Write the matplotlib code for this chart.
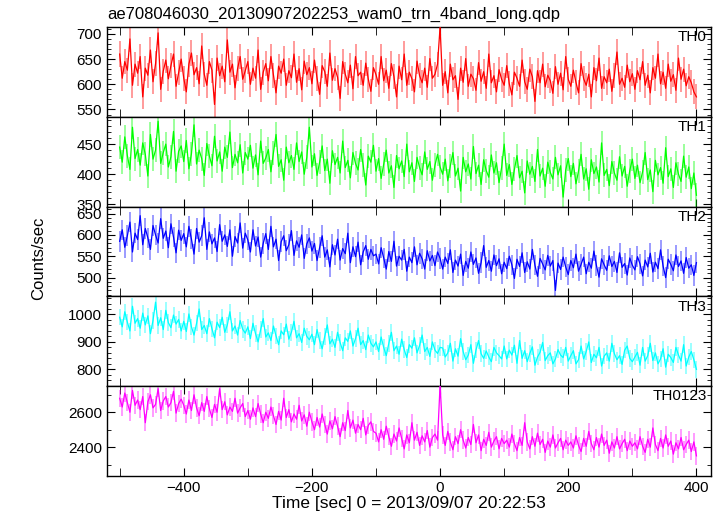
import numpy as np
import matplotlib
matplotlib.use("Agg")
import matplotlib.pyplot as plt
from matplotlib.ticker import MultipleLocator

plt.rcParams['font.family'] = ['Liberation Sans', 'DejaVu Sans']
plt.rcParams['font.size'] = 11

title = "ae708046030_20130907202253_wam0_trn_4band_long.qdp"
xlabel = "Time [sec] 0 = 2013/09/07 20:22:53"
ylabel = "Counts/sec"

# light curves, counts/sec, from -500 s to +400 s
th0 = [660, 612, 645, 628, 690, 598, 640, 622, 655, 575, 632, 618, 668, 605, 641, 702, 590, 626, 648, 611, 637, 660, 596, 623, 650,
       612, 585, 640, 662, 619, 633, 601, 676, 620, 598, 645, 628, 560, 652, 617, 636, 605, 688, 624, 640, 593, 631, 655, 610, 627,
       645, 600, 632, 612, 668, 590, 624, 641, 607, 655, 618, 583, 636, 622, 650, 598, 627, 613, 660, 604, 631, 589, 646, 619, 633,
       601, 648, 612, 580, 637, 625, 596, 662, 608, 631, 614, 572, 645, 620, 603, 638, 591, 655, 617, 624, 598, 642, 610, 586, 633,
       619, 600, 655, 607, 628, 592, 641, 615, 575, 636, 609, 660, 598, 624, 611, 585, 646, 617, 603, 632, 594, 651, 612, 620, 640,
       714,
       598, 625, 583, 640, 609, 617, 570, 632, 604, 651, 596, 620, 611, 588, 643, 606, 625, 592, 660, 603, 617, 585, 629, 610, 598,
       637, 601, 579, 624, 612, 596, 648, 605, 590, 630, 615, 566, 627, 603, 640, 595, 618, 607, 582, 635, 600, 622, 589, 655, 610,
       596, 628, 604, 583, 641, 611, 598, 620, 575, 633, 607, 652, 592, 615, 603, 630, 586, 618, 664, 600, 612, 594, 638, 605, 621,
       590, 627, 609, 645, 598, 618, 583, 633, 612, 660, 601, 624, 592, 640, 606, 619, 588, 652, 610, 630, 597, 615, 603, 585, 575]

th1 = [445, 420, 462, 431, 408, 478, 426, 441, 415, 452, 433, 397, 466, 425, 440, 488, 418, 436, 450, 412, 429, 471, 405, 438, 447,
       421, 456, 409, 434, 482, 417, 440, 426, 398, 451, 430, 414, 463, 422, 437, 405, 445, 428, 470, 411, 433, 419, 449, 402, 436,
       425, 448, 410, 432, 399, 455, 418, 427, 441, 404, 436, 466, 413, 424, 390, 445, 419, 431, 408, 452, 421, 437, 400, 428, 478,
       412, 434, 398, 420, 447, 406, 425, 385, 439, 416, 428, 402, 455, 411, 423, 394, 436, 418, 407, 441, 415, 382, 430, 420, 448,
       405, 426, 393, 417, 440, 402, 414, 378, 431, 409, 422, 396, 450, 404, 419, 388, 428, 411, 399, 437, 408, 421, 390, 415, 433,
       412,
       400, 425, 389, 414, 436, 397, 410, 372, 428, 404, 417, 392, 446, 401, 415, 383, 424, 406, 395, 432, 402, 419, 386, 411, 450,
       398, 416, 383, 408, 431, 394, 405, 369, 422, 400, 413, 388, 441, 397, 410, 380, 420, 403, 392, 428, 399, 414, 362, 407, 426,
       396, 418, 384, 405, 433, 392, 409, 375, 424, 401, 412, 387, 452, 398, 408, 381, 421, 402, 390, 429, 397, 413, 380, 406, 425,
       393, 415, 386, 404, 436, 391, 407, 371, 423, 399, 411, 385, 444, 396, 409, 378, 419, 400, 388, 430, 395, 412, 376, 402, 365]

th2 = [585, 612, 571, 598, 630, 560, 604, 589, 645, 577, 615, 593, 566, 622, 600, 581, 638, 592, 609, 570, 626, 595, 558, 611, 587,
       603, 572, 620, 590, 555, 615, 583, 598, 640, 566, 607, 579, 593, 561, 624, 585, 600, 573, 612, 550, 596, 581, 628, 569, 604,
       588, 560, 612, 574, 595, 548, 580, 603, 566, 620, 572, 590, 540, 584, 598, 563, 577, 610, 552, 586, 571, 600, 545, 579, 593,
       562, 580, 540, 570, 598, 548, 565, 525, 577, 553, 590, 541, 568, 556, 604, 535, 572, 549, 583, 530, 560, 575, 543, 566, 551,
       555, 532, 570, 546, 520, 561, 538, 585, 527, 550, 541, 566, 515, 548, 535, 572, 530, 557, 544, 520, 563, 539, 552, 528, 560,
       545,
       520, 548, 533, 565, 512, 541, 527, 555, 505, 538, 522, 560, 531, 546, 510, 535, 575, 524, 540, 515, 553, 528, 544, 509, 536,
       521, 550, 530, 498, 543, 526, 558, 512, 537, 520, 566, 529, 503, 545, 532, 518, 552, 527, 540, 470, 534, 519, 548, 525, 507,
       540, 523, 555, 515, 531, 548, 509, 536, 522, 562, 528, 501, 544, 530, 517, 551, 526, 538, 512, 558, 524, 533, 506, 546, 529,
       518, 549, 532, 504, 541, 525, 557, 513, 536, 521, 565, 527, 500, 543, 531, 516, 553, 526, 539, 510, 547, 522, 530, 505, 535]

th3 = [990, 955, 1010, 972, 940, 1030, 968, 985, 950, 1005, 962, 995, 930, 978, 1045, 960, 988, 945, 1015, 970, 952, 998, 965, 982, 940,
       975, 938, 1002, 955, 925, 968, 1020, 945, 960, 930, 985, 948, 915, 972, 952, 990, 935, 962, 1010, 940, 958, 925, 978, 946, 932,
       955, 912, 968, 930, 900, 945, 985, 918, 933, 905, 958, 922, 890, 940, 926, 965, 910, 935, 975, 915, 930, 898, 950, 920, 908,
       928, 890, 945, 905, 875, 920, 962, 893, 910, 880, 935, 898, 868, 915, 902, 940, 885, 912, 950, 890, 905, 872, 925, 895, 882,
       900, 865, 918, 880, 850, 895, 935, 868, 885, 855, 910, 872, 843, 890, 877, 915, 860, 887, 925, 865, 880, 847, 900, 870, 858,
       880,
       878, 845, 860, 895, 830, 875, 848, 912, 865, 835, 852, 890, 822, 870, 905, 857, 840, 867, 845, 828, 880, 860, 850, 838, 885,
       838, 870, 852, 888, 822, 905, 840, 868, 828, 858, 882, 815, 845, 862, 898, 832, 850, 860, 820, 838, 872, 852, 843, 880, 830,
       850, 868, 820, 835, 885, 838, 865, 900, 825, 855, 842, 880, 812, 848, 860, 830, 895, 857, 835, 850, 818, 870, 885, 840, 828,
       845, 862, 815, 880, 830, 850, 895, 832, 860, 820, 838, 875, 808, 855, 843, 825, 880, 852, 830, 890, 812, 845, 865, 835, 800]

th0123 = [2680, 2630, 2710, 2655, 2600, 2725, 2640, 2670, 2615, 2690, 2540, 2660, 2700, 2625, 2645, 2735, 2610, 2665, 2690, 2630, 2655, 2720, 2595, 2650, 2675,
          2640, 2590, 2670, 2610, 2700, 2625, 2580, 2655, 2605, 2690, 2620, 2570, 2645, 2600, 2735, 2615, 2660, 2585, 2630, 2605, 2680, 2595, 2625, 2650, 2575,
          2610, 2560, 2625, 2575, 2650, 2590, 2540, 2600, 2565, 2630, 2580, 2530, 2605, 2555, 2680, 2570, 2615, 2545, 2590, 2560, 2640, 2550, 2585, 2520, 2600,
          2545, 2500, 2570, 2515, 2590, 2530, 2475, 2550, 2505, 2575, 2520, 2460, 2540, 2495, 2610, 2510, 2555, 2480, 2530, 2500, 2565, 2470, 2525, 2545, 2490,
          2480, 2430, 2500, 2445, 2520, 2460, 2405, 2475, 2435, 2510, 2450, 2390, 2470, 2425, 2540, 2440, 2485, 2410, 2465, 2430, 2495, 2400, 2455, 2475, 2440,
          2760,
          2470, 2410, 2490, 2430, 2385, 2460, 2420, 2500, 2440, 2395, 2455, 2415, 2530, 2425, 2470, 2380, 2445, 2410, 2485, 2400, 2435, 2460, 2390, 2450, 2420,
          2440, 2400, 2475, 2420, 2380, 2455, 2410, 2540, 2430, 2390, 2460, 2405, 2480, 2415, 2445, 2370, 2435, 2400, 2470, 2395, 2425, 2450, 2385, 2440, 2410,
          2430, 2395, 2465, 2410, 2375, 2450, 2405, 2490, 2420, 2385, 2455, 2400, 2475, 2410, 2440, 2365, 2430, 2395, 2460, 2390, 2420, 2445, 2380, 2435, 2405,
          2425, 2390, 2460, 2405, 2370, 2445, 2400, 2510, 2415, 2380, 2450, 2395, 2470, 2405, 2435, 2360, 2425, 2390, 2455, 2385, 2415, 2440, 2375, 2430, 2350]

names = ["TH0", "TH1", "TH2", "TH3", "TH0123"]
series = [th0, th1, th2, th3, th0123]
errs = [25, 20, 24, 30, 50]
colors = ["#ff0000", "#00ff00", "#0000ff", "#00ffff", "#ff00ff"]
ylims = [(535, 713), (346, 495), (456, 666), (739, 1066), (2236, 2750)]
ymajor = [50, 50, 50, 100, 200]
yminor = [10, 10, 10, 20, 100]

fig, axes = plt.subplots(5, 1, sharex=True, figsize=(7.22, 5.16), dpi=100)
fig.subplots_adjust(left=0.148, right=0.985, top=0.947, bottom=0.078, hspace=0)

for i, ax in enumerate(axes):
    y = np.array(series[i], dtype=float)
    t = np.linspace(-500, 400, len(y))
    # light error bars behind the curve
    ax.vlines(t, y - errs[i], y + errs[i], color=colors[i], lw=1.1, alpha=0.5, zorder=2)
    ax.plot(t, y, '-', color=colors[i], lw=0.9, zorder=3)
    ax.set_ylim(*ylims[i])
    ax.set_xlim(-520, 423)
    ax.yaxis.set_major_locator(MultipleLocator(ymajor[i]))
    ax.yaxis.set_minor_locator(MultipleLocator(yminor[i]))
    ax.xaxis.set_major_locator(MultipleLocator(200))
    ax.xaxis.set_minor_locator(MultipleLocator(100))
    ax.tick_params(which='both', direction='in', top=True, right=True, labelsize=11)
    ax.tick_params(which='major', length=6)
    ax.tick_params(which='minor', length=3)
    ax.tick_params(axis='x', which='minor', length=6)
    for s in ax.spines.values():
        s.set_linewidth(1.0)
    ax.text(0.993, 0.965, names[i], transform=ax.transAxes, ha='right', va='top', fontsize=11)

axes[-1].set_xlabel(xlabel, fontsize=12.5, labelpad=1)
fig.text(0.054, 0.5, ylabel, rotation=90, ha='center', va='center', fontsize=12)
fig.text(0.148, 0.973, title, ha='left', va='center', fontsize=12)

fig.savefig("out.png", dpi=100)
